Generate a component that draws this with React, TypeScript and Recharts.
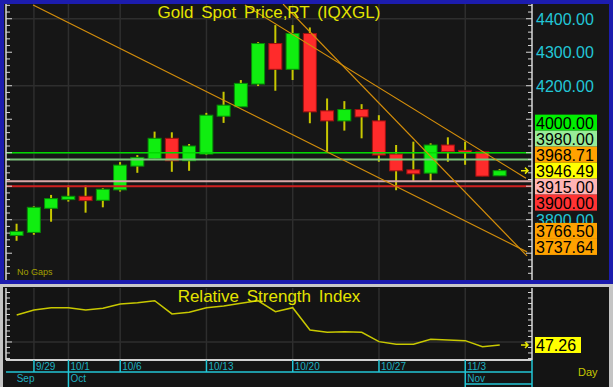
import React from "react";
import { Bar, CartesianGrid, ComposedChart, Line, ReferenceLine, XAxis, YAxis } from "recharts";

// daily candles, 9/26 .. 11/5
const dates = [
  "9/26", "9/29", "9/30", "10/1", "10/2", "10/3", "10/6", "10/7", "10/8", "10/9",
  "10/10", "10/13", "10/14", "10/15", "10/16", "10/17", "10/20", "10/21", "10/22", "10/23",
  "10/24", "10/27", "10/28", "10/29", "10/30", "10/31", "11/3", "11/4", "11/5",
];
const opens = [
  3753, 3762, 3834, 3860, 3870, 3858, 3889, 3960, 3982, 4043,
  3976, 3996, 4109, 4137, 4205, 4326, 4249, 4356, 4125, 4095,
  4129, 4095, 3996, 3949, 3939, 4023, 4007, 4003, 3931,
];
const highs = [
  3788, 3840, 3874, 3902, 3902, 3894, 3972, 3993, 4063, 4061,
  4026, 4119, 4182, 4217, 4330, 4381, 4381, 4374, 4162, 4154,
  4145, 4112, 4023, 4033, 4028, 4046, 4033, 4005, 3951,
];
const lows = [
  3737, 3755, 3794, 3854, 3821, 3837, 3884, 3940, 3980, 3943,
  3946, 3993, 4089, 4137, 4199, 4185, 4217, 4088, 4003, 4066,
  4043, 3973, 3888, 3916, 3916, 3973, 3964, 3930, 3931,
];
const closes = [
  3765, 3837, 3863, 3870, 3857, 3891, 3963, 3986, 4043, 3976,
  4020, 4112, 4142, 4207, 4326, 4249, 4356, 4122, 4095, 4129,
  4107, 3993, 3946, 3937, 4023, 4003, 4002, 3930, 3946.49,
];
const rsiValues = [
  74.5, 79.1, 81.2, 81.2, 79.1, 80.6, 84.5, 85.7, 87.5, 75.5,
  77.0, 81.2, 82.7, 85.2, 87.5, 77.5, 81.2, 60.9, 58.8, 59.4,
  58.8, 50.3, 47.9, 47.9, 52.5, 51.8, 51.2, 45.7, 47.26,
];

const dateTickIdx = [1, 3, 6, 11, 16, 21, 26];
const monthNames = ["Sep", "Oct", "Nov"];
const monthStartIdx = [0, 3, 26];

const priceLabelTicks = [4400, 4300, 4200, 4100, 4000, 3900, 3800, 3700];
const priceGrid = [4400, 4200, 4000, 3800];
const levelValues = [4000, 3980, 3915, 3900];
const tagValues = [4000, 3980, 3968.71, 3946.49, 3915, 3900, 3766.5, 3737.64];
const lastPrice = 3946.49;
const rsiLabelTicks = [50];

// drawn trend lines: [index, price] -> [index, price]
const trendLines = [
  { x1: 0.95, y1: 4441, x2: 29.58, y2: 3704 },
  { x1: 15.44, y1: 4444, x2: 29.58, y2: 3692 },
  { x1: 13.23, y1: 4441, x2: 29.52, y2: 3924 },
];

const rows = dates.map((date, i) => ({
  i,
  date,
  open: opens[i],
  high: highs[i],
  low: lows[i],
  close: closes[i],
  rsi: rsiValues[i],
}));

const W = 613;
const PLOT_LEFT = 6;
const PLOT_RIGHT = 532;
const MAIN_H = 284;
const MAIN_TOP = 4;
const MAIN_BOTTOM = 280;
const RSI_TOP = 286;
const RSI_H = 101;
const xDomain: [number, number] = [-0.62, 29.87];
const priceDomain: [number, number] = [3620, 4444];
const rsiDomain: [number, number] = [33.6, 99.1];

const levelColors = ["#00d800", "#7cc47c", "#d8a8a8", "#d02020"];
const tagFills = ["#00ee00", "#98ec98", "#ffa200", "#ffff00", "#ffb4b4", "#ff3333", "#ffa200", "#ffa200"];
const CYAN = "#22c6d6";
const FONT = "'Liberation Sans', Arial, sans-serif";

const minorPriceTicks: number[] = [];
for (let v = 3640; v <= 4440; v += 20) minorPriceTicks.push(v);
const rsiTicks: number[] = [];
for (let v = 35; v <= 95; v += 5) rsiTicks.push(v);

// push overlapping tags apart, keeping the last price tag where it is
function stackTags(values: number[], anchor: number, gap: number) {
  const sorted = values.map((v, k) => ({ v, k })).sort((a, b) => b.v - a.v);
  const ai = sorted.findIndex((t) => t.v === anchor);
  const pos: number[] = [];
  pos[sorted[ai].k] = anchor;
  let prev = anchor;
  for (let j = ai - 1; j >= 0; j--) {
    prev = Math.max(sorted[j].v, prev + gap);
    pos[sorted[j].k] = prev;
  }
  prev = anchor;
  for (let j = ai + 1; j < sorted.length; j++) {
    prev = Math.min(sorted[j].v, prev - gap);
    pos[sorted[j].k] = prev;
  }
  return pos;
}

const unitsPerPx = (priceDomain[1] - priceDomain[0]) / (MAIN_BOTTOM - MAIN_TOP);
const rsiUnitsPerPx = (rsiDomain[1] - rsiDomain[0]) / 72;
const tagPos = stackTags(tagValues, lastPrice, 16 * unitsPerPx);
const lastRsi = rsiValues[rsiValues.length - 1];

function Candle(props: any) {
  const { x, y, width, height, payload } = props;
  if (x == null || !payload) return null;
  const top0 = Math.min(y, y + height);
  const h = Math.abs(height);
  const span = payload.high - payload.low || 1;
  const py = (v: number) => top0 + ((payload.high - v) / span) * h;
  const up = payload.close >= payload.open;
  const bTop = py(Math.max(payload.open, payload.close));
  const bBot = py(Math.min(payload.open, payload.close));
  const cx = x + width / 2;
  return (
    <g>
      <line x1={cx} x2={cx} y1={top0} y2={top0 + h} stroke="#c8c800" strokeWidth={2} />
      <rect
        x={x}
        y={bTop}
        width={width}
        height={Math.max(bBot - bTop, 2)}
        fill={up ? "#10ee10" : "#ff2b2b"}
        stroke={up ? "#078a07" : "#a01010"}
        strokeWidth={1}
      />
    </g>
  );
}

// axis tick mark; value label only on majors not covered by a tag box
function SideTick(props: any) {
  const { x, y, payload, side, majors, showLabels, covered } = props;
  const v = payload.value;
  const major = majors.includes(v);
  const len = major ? 6 : 4;
  const dir = side === "left" ? 1 : -1;
  const hidden = covered ? covered(v) : false;
  return (
    <g>
      <line x1={x} x2={x + dir * len} y1={y} y2={y} stroke="#d8d8d8" strokeWidth={1} />
      {showLabels && major && !hidden && (
        <text x={x + 4} y={y + 6} fontSize={16} fill={CYAN} fontFamily={FONT}>
          {v.toFixed(2)}
        </text>
      )}
    </g>
  );
}

const priceCovered = (v: number) => tagPos.some((p) => Math.abs(p - v) < 9 * unitsPerPx);
const rsiCovered = (v: number) => Math.abs(lastRsi - v) < 9 * rsiUnitsPerPx;

function PriceTag(props: any) {
  const { viewBox, text, fill, arrow, boxWidth } = props;
  if (!viewBox) return null;
  const { x, y, width } = viewBox;
  const left = x + width + 3;
  return (
    <g>
      {arrow && (
        <path
          d={`M${x + width - 11},${y} h7 m-3,-3 l3,3 l-3,3`}
          stroke="#e8e800"
          strokeWidth={1.5}
          fill="none"
        />
      )}
      <rect x={left} y={y - 8} width={boxWidth} height={16} fill={fill} />
      <text x={left + 1} y={y + 6} fontSize={16} fill="#000" fontFamily={FONT}>
        {text}
      </text>
    </g>
  );
}

function DateTick(props: any) {
  const { x, y, payload } = props;
  const i = payload.value;
  const m = monthStartIdx.indexOf(i);
  const isDate = dateTickIdx.includes(i);
  const isLastMonth = m === monthStartIdx.length - 1;
  return (
    <g fontFamily={FONT}>
      {i === monthStartIdx[0] && (
        <g>
          <line x1={PLOT_LEFT} x2={PLOT_RIGHT} y1={y + 12} y2={y + 12} stroke={CYAN} strokeWidth={1.5} />
          <line x1={PLOT_RIGHT} x2={PLOT_RIGHT} y1={y} y2={y + 27} stroke={CYAN} strokeWidth={1.5} />
        </g>
      )}
      {isDate && (
        <g>
          <line x1={x} x2={x} y1={y} y2={m > 0 ? y + 27 : y + 12} stroke={CYAN} strokeWidth={1.5} />
          <text x={x + 2} y={y + 10} fontSize={10} fill="#1fb0c0">
            {dates[i]}
          </text>
        </g>
      )}
      {m >= 0 && (
        <text x={m > 0 ? x + 2 : x} y={y + 22} fontSize={10} fill="#1fb0c0">
          {monthNames[m]}
        </text>
      )}
      {isLastMonth && <line x1={x} x2={PLOT_RIGHT} y1={y + 24} y2={y + 24} stroke={CYAN} strokeWidth={1.5} />}
    </g>
  );
}

const abs = (left: number, top: number): React.CSSProperties => ({ position: "absolute", left, top });

export default function App() {
  return (
    <div
      style={{
        position: "absolute",
        left: 0,
        top: 0,
        width: W,
        height: 387,
        background: "#c8c8c8",
        fontFamily: FONT,
        overflow: "hidden",
      }}
    >
      <div
        style={{
          ...abs(0, 0),
          width: W,
          height: MAIN_H,
          boxSizing: "border-box",
          border: "4px solid #1c1cae",
          background: "#161616",
        }}
      />
      <div
        style={{
          ...abs(0, 287),
          width: W,
          height: 100,
          boxSizing: "border-box",
          borderLeft: "3px solid #c4c4c4",
          borderRight: "4px solid #c4c4c4",
          background: "#141414",
        }}
      />

      {/* price panel */}
      <div style={abs(0, 0)}>
        <ComposedChart
          width={W}
          height={MAIN_H}
          data={rows}
          margin={{ top: MAIN_TOP, right: 0, bottom: MAIN_H - MAIN_BOTTOM, left: 0 }}
        >
          <CartesianGrid
            yAxisId="p"
            stroke="#2e2e2e"
            strokeWidth={1.5}
            horizontalValues={priceGrid}
            verticalValues={dateTickIdx}
          />
          <XAxis type="number" dataKey="i" domain={xDomain} ticks={dateTickIdx} hide allowDataOverflow />
          <YAxis
            yAxisId="l"
            orientation="left"
            width={PLOT_LEFT}
            domain={priceDomain}
            ticks={minorPriceTicks}
            interval={0}
            tickSize={0}
            tickMargin={0}
            tickLine={false}
            axisLine={{ stroke: "#d8d8d8", strokeWidth: 1.5 }}
            tick={<SideTick side="left" majors={priceLabelTicks} showLabels={false} />}
            allowDataOverflow
          />
          <YAxis
            yAxisId="p"
            orientation="right"
            width={W - PLOT_RIGHT}
            domain={priceDomain}
            ticks={minorPriceTicks}
            interval={0}
            tickSize={0}
            tickMargin={0}
            tickLine={false}
            axisLine={{ stroke: "#d8d8d8", strokeWidth: 1.5 }}
            tick={<SideTick side="right" majors={priceLabelTicks} showLabels covered={priceCovered} />}
            allowDataOverflow
          />
          {levelValues.map((v, k) => (
            <ReferenceLine key={`lv${v}`} yAxisId="p" y={v} stroke={levelColors[k]} strokeWidth={k === 0 ? 1.5 : 2} />
          ))}
          <Bar
            yAxisId="p"
            dataKey={(d: any) => [d.low, d.high]}
            barSize={13}
            shape={(p: any) => <Candle {...p} />}
            isAnimationActive={false}
          />
          {trendLines.map((t, k) => (
            <ReferenceLine
              key={`tl${k}`}
              yAxisId="p"
              segment={[
                { x: t.x1, y: t.y1 },
                { x: t.x2, y: t.y2 },
              ]}
              stroke="#d48e0a"
              strokeWidth={1.2}
              ifOverflow="hidden"
            />
          ))}
        </ComposedChart>
      </div>

      {/* price tags, drawn over the axis */}
      <div style={abs(0, 0)}>
        <ComposedChart
          width={W}
          height={MAIN_H}
          data={rows}
          margin={{ top: MAIN_TOP, right: W - PLOT_RIGHT, bottom: MAIN_H - MAIN_BOTTOM, left: PLOT_LEFT }}
        >
          <XAxis type="number" dataKey="i" domain={xDomain} hide allowDataOverflow />
          <YAxis yAxisId="p" domain={priceDomain} hide allowDataOverflow />
          {tagValues.map((v, k) => (
            <ReferenceLine
              key={`tag${v}`}
              yAxisId="p"
              y={tagPos[k]}
              stroke="none"
              ifOverflow="visible"
              label={<PriceTag text={v.toFixed(2)} fill={tagFills[k]} arrow={v === lastPrice} boxWidth={62} />}
            />
          ))}
        </ComposedChart>
      </div>

      {/* RSI panel */}
      <div style={abs(0, RSI_TOP)}>
        <ComposedChart width={W} height={RSI_H} data={rows} margin={{ top: 2, right: 0, bottom: 0, left: 0 }}>
          <CartesianGrid
            yAxisId="r"
            stroke="#2e2e2e"
            strokeWidth={1.5}
            horizontalValues={[50]}
            verticalValues={dateTickIdx}
          />
          <XAxis
            type="number"
            dataKey="i"
            domain={xDomain}
            ticks={[0, ...dateTickIdx]}
            interval={0}
            height={27}
            tickSize={0}
            tickMargin={0}
            tickLine={false}
            axisLine={{ stroke: "#d0d0d0", strokeWidth: 2 }}
            tick={<DateTick />}
            allowDataOverflow
          />
          <YAxis
            yAxisId="l"
            orientation="left"
            width={PLOT_LEFT}
            domain={rsiDomain}
            ticks={rsiTicks}
            interval={0}
            tickSize={0}
            tickMargin={0}
            tickLine={false}
            axisLine={{ stroke: "#d8d8d8", strokeWidth: 1.5 }}
            tick={<SideTick side="left" majors={rsiLabelTicks} showLabels={false} />}
            allowDataOverflow
          />
          <YAxis
            yAxisId="r"
            orientation="right"
            width={W - PLOT_RIGHT}
            domain={rsiDomain}
            ticks={rsiTicks}
            interval={0}
            tickSize={0}
            tickMargin={0}
            tickLine={false}
            axisLine={{ stroke: "#d8d8d8", strokeWidth: 1.5 }}
            tick={<SideTick side="right" majors={rsiLabelTicks} showLabels covered={rsiCovered} />}
            allowDataOverflow
          />
          <Line
            yAxisId="r"
            dataKey="rsi"
            type="linear"
            stroke="#c8c800"
            strokeWidth={1.5}
            dot={false}
            isAnimationActive={false}
          />
        </ComposedChart>
      </div>

      {/* RSI last value tag */}
      <div style={abs(0, RSI_TOP)}>
        <ComposedChart
          width={W}
          height={RSI_H}
          data={rows}
          margin={{ top: 2, right: W - PLOT_RIGHT, bottom: 27, left: PLOT_LEFT }}
        >
          <XAxis type="number" dataKey="i" domain={xDomain} hide allowDataOverflow />
          <YAxis yAxisId="r" domain={rsiDomain} hide allowDataOverflow />
          <ReferenceLine
            yAxisId="r"
            y={lastRsi}
            stroke="none"
            ifOverflow="visible"
            label={<PriceTag text={lastRsi.toFixed(2)} fill="#ffff00" arrow boxWidth={46} />}
          />
        </ComposedChart>
      </div>

      <div
        style={{
          ...abs(PLOT_LEFT, 4),
          width: PLOT_RIGHT - PLOT_LEFT,
          textAlign: "center",
          color: "#e4e400",
          fontSize: 17,
          lineHeight: "17px",
          wordSpacing: 3,
          whiteSpace: "nowrap",
        }}
      >
        Gold Spot Price,RT (IQXGL)
      </div>
      <div style={{ ...abs(17, 267), color: "#a4a000", fontSize: 9, lineHeight: "10px" }}>No Gaps</div>
      <div
        style={{
          ...abs(PLOT_LEFT, 288),
          width: PLOT_RIGHT - PLOT_LEFT,
          textAlign: "center",
          color: "#e4e400",
          fontSize: 17,
          lineHeight: "17px",
          wordSpacing: 3,
          whiteSpace: "nowrap",
        }}
      >
        Relative Strength Index
      </div>
      <div style={{ ...abs(578, 366), color: "#c8c800", fontSize: 11, lineHeight: "12px" }}>Day</div>
    </div>
  );
}
